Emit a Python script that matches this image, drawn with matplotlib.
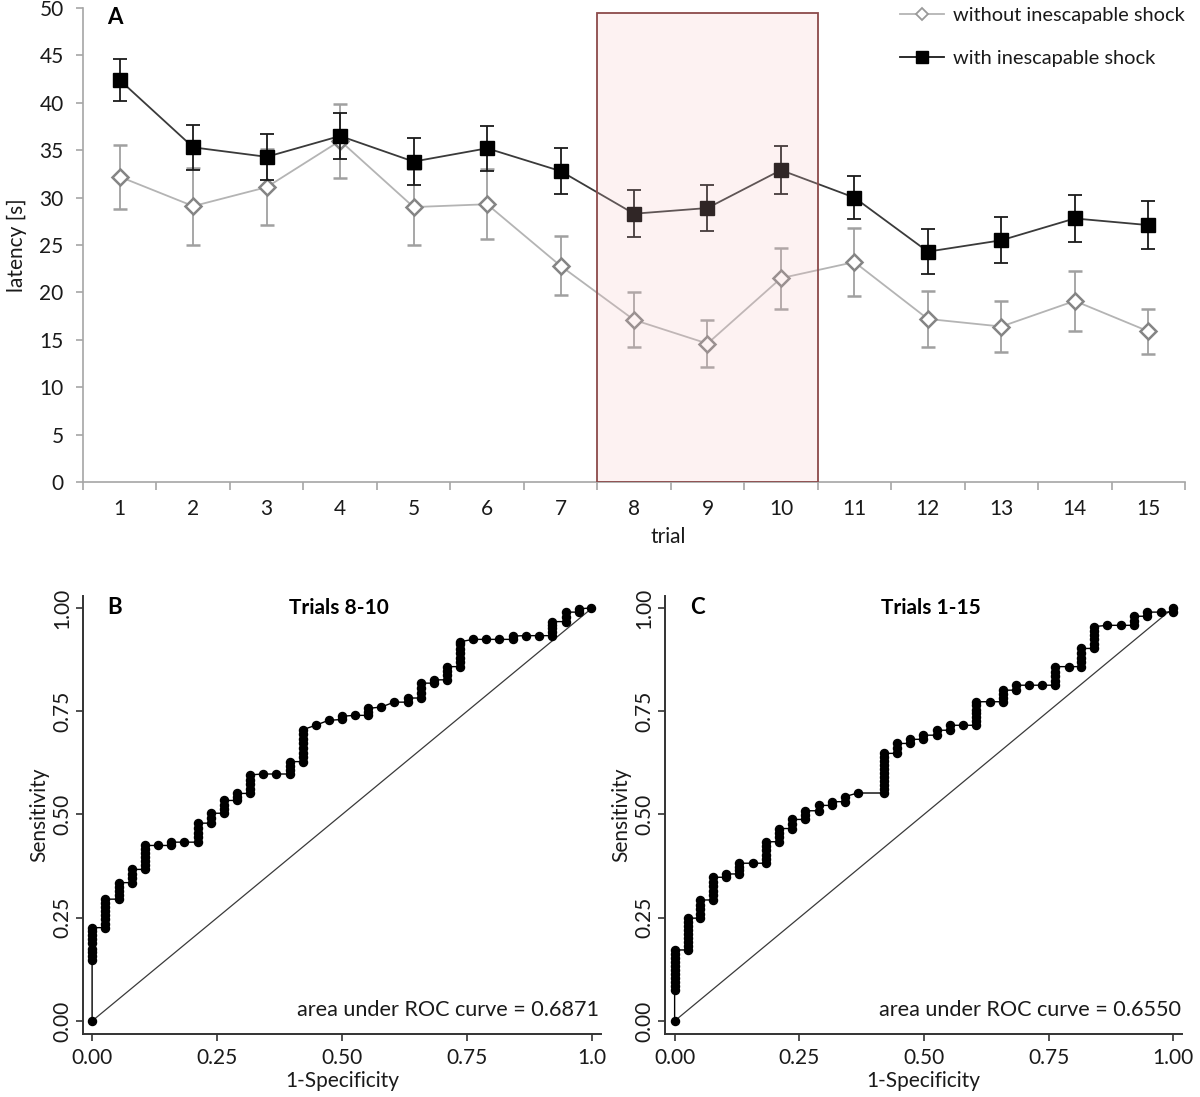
import matplotlib
matplotlib.use("Agg")
import matplotlib.pyplot as plt
from matplotlib.patches import Rectangle
from matplotlib.lines import Line2D

plt.rcParams['font.family'] = ['Lato', 'DejaVu Sans']

# ---------------- Panel A data ----------------
trials = list(range(1, 16))
trial_labels = [str(t) for t in trials]
with_mean = [42.4, 35.3, 34.3, 36.5, 33.8, 35.2, 32.8, 28.3, 28.9, 32.9, 30.0, 24.3, 25.5, 27.8, 27.1]
with_err = [2.2, 2.4, 2.4, 2.4, 2.5, 2.4, 2.45, 2.5, 2.45, 2.5, 2.3, 2.4, 2.45, 2.45, 2.55]
without_mean = [32.2, 29.1, 31.1, 36.0, 29.0, 29.3, 22.8, 17.1, 14.6, 21.5, 23.2, 17.2, 16.4, 19.1, 15.9]
without_err = [3.4, 4.05, 4.0, 3.9, 4.05, 3.7, 3.1, 2.9, 2.45, 3.2, 3.6, 2.95, 2.65, 3.2, 2.4]
highlight_trials = (8, 10)
highlight_top = 49.5
series_labels = ['without inescapable shock', 'with inescapable shock']

# ---------------- Panel B ROC (trials 8-10) ----------------
roc_b_fpr = [0.000, 0.026, 0.053, 0.079, 0.105, 0.132, 0.158, 0.184, 0.211, 0.237,
             0.263, 0.289, 0.316, 0.342, 0.368, 0.395, 0.421, 0.447, 0.473, 0.500,
             0.526, 0.552, 0.578, 0.604, 0.631, 0.657, 0.683, 0.709, 0.735, 0.762,
             0.788, 0.814, 0.841, 0.867, 0.894, 0.920, 0.947, 0.973, 0.998]
roc_b_tpr = [
    [0.000, 0.148, 0.157, 0.166, 0.175, 0.190, 0.199, 0.208, 0.217, 0.226],
    [0.226, 0.236, 0.246, 0.256, 0.266, 0.276, 0.286, 0.295],
    [0.295, 0.305, 0.315, 0.325, 0.335],
    [0.335, 0.346, 0.357, 0.367],
    [0.367, 0.377, 0.387, 0.396, 0.406, 0.416, 0.425],
    [0.425],
    [0.425, 0.433],
    [0.433],
    [0.433, 0.445, 0.456, 0.468, 0.479],
    [0.479, 0.491, 0.503],
    [0.503, 0.513, 0.524, 0.534],
    [0.534, 0.542, 0.551],
    [0.551, 0.562, 0.573, 0.584, 0.596],
    [0.598],
    [0.598],
    [0.598, 0.608, 0.618, 0.628],
    [0.628, 0.639, 0.650, 0.661, 0.672, 0.683, 0.694, 0.705],
    [0.716],
    [0.728],
    [0.730, 0.738],
    [0.740],
    [0.740, 0.748, 0.757],
    [0.760],
    [0.772],
    [0.772, 0.782],
    [0.782, 0.794, 0.806, 0.818],
    [0.818, 0.826],
    [0.826, 0.837, 0.847, 0.858],
    [0.858, 0.869, 0.880, 0.891, 0.901, 0.912, 0.918],
    [0.924],
    [0.924],
    [0.924],
    [0.924, 0.932],
    [0.933],
    [0.933],
    [0.933, 0.942, 0.951, 0.959, 0.967],
    [0.967, 0.979, 0.990],
    [0.990, 0.998],
    [1.000],
]
auc_b = '0.6871'

# ---------------- Panel C ROC (trials 1-15) ----------------
roc_c_fpr = [0.000, 0.026, 0.051, 0.077, 0.103, 0.130, 0.157, 0.183, 0.210, 0.236,
             0.262, 0.289, 0.315, 0.341, 0.367, 0.419, 0.446, 0.473, 0.499, 0.526,
             0.552, 0.579, 0.605, 0.632, 0.658, 0.684, 0.711, 0.737, 0.763, 0.790,
             0.816, 0.842, 0.868, 0.895, 0.921, 0.948, 0.975, 1.000]
roc_c_tpr = [
    [0.000, 0.075, 0.085, 0.095, 0.104, 0.114, 0.124, 0.133, 0.143, 0.153, 0.162, 0.172],
    [0.172, 0.182, 0.191, 0.201, 0.211, 0.220, 0.230, 0.240, 0.249],
    [0.249, 0.260, 0.271, 0.282, 0.293],
    [0.293, 0.304, 0.315, 0.326, 0.337, 0.348],
    [0.348, 0.356],
    [0.356, 0.365, 0.374, 0.382],
    [0.382],
    [0.382, 0.392, 0.403, 0.413, 0.424, 0.434],
    [0.434, 0.445, 0.456, 0.466],
    [0.466, 0.477, 0.488],
    [0.488, 0.499, 0.509],
    [0.509, 0.522],
    [0.522, 0.531],
    [0.531, 0.543],
    [0.552],
    [0.552, 0.562, 0.572, 0.581, 0.591, 0.600, 0.610, 0.619, 0.629, 0.638, 0.648],
    [0.648, 0.660, 0.672],
    [0.672, 0.682],
    [0.682, 0.692],
    [0.692, 0.704],
    [0.704, 0.716],
    [0.716],
    [0.716, 0.726, 0.735, 0.745, 0.754, 0.764, 0.773],
    [0.773],
    [0.773, 0.783, 0.792, 0.801],
    [0.801, 0.813],
    [0.813],
    [0.813],
    [0.813, 0.824, 0.835, 0.846, 0.858],
    [0.858],
    [0.858, 0.869, 0.880, 0.891, 0.902],
    [0.902, 0.913, 0.924, 0.934, 0.945, 0.955],
    [0.958],
    [0.958],
    [0.958, 0.969, 0.980],
    [0.980, 0.990],
    [0.990],
    [0.990, 1.000],
]
auc_c = '0.6550'

roc_ticks = [0.0, 0.25, 0.5, 0.75, 1.0]
roc_b_xticklabels = ['0.00', '0.25', '0.50', '0.75', '1.0']
roc_c_xticklabels = ['0.00', '0.25', '0.50', '0.75', '1.00']
roc_yticklabels = ['0.00', '0.25', '0.50', '0.75', '1.00']

# ---------------- Figure ----------------
W, H = 1200, 1097
fig = plt.figure(figsize=(W / 100, H / 100), dpi=100)


def fr(x0, y0, x1, y1):
    return [x0 / W, 1 - y1 / H, (x1 - x0) / W, (y1 - y0) / H]


FS = 15
gray_axis = '#a6a6a6'
txt = '#1a1a1a'

# ---- Panel A ----
axA = fig.add_axes(fr(83, 8, 1185, 482))
axA.set_xlim(0.5, 15.5)
axA.set_ylim(0, 50)

axA.errorbar(trials, without_mean, yerr=without_err, color='#b4b4b4', lw=1.3,
             ecolor='#a0a0a0', elinewidth=1.3, capsize=5, capthick=1.3,
             marker='D', markersize=8.5, markerfacecolor='white',
             markeredgecolor='#858585', markeredgewidth=1.8, zorder=3)
axA.errorbar(trials, with_mean, yerr=with_err, color='#3a3a3a', lw=1.3,
             ecolor='#1a1a1a', elinewidth=1.3, capsize=5, capthick=1.3,
             marker='s', markersize=9.5, markerfacecolor='black',
             markeredgecolor='black', zorder=4)

rect = Rectangle((highlight_trials[0] - 0.5, 0), highlight_trials[1] - highlight_trials[0] + 1,
                 highlight_top, facecolor=(0.96, 0.76, 0.76, 0.2),
                 edgecolor='#8c4a4a', lw=1.3, zorder=5)
axA.add_patch(rect)

for s in ['top', 'right']:
    axA.spines[s].set_visible(False)
for s in ['left', 'bottom']:
    axA.spines[s].set_color(gray_axis)
    axA.spines[s].set_linewidth(1.2)

axA.set_yticks(range(0, 51, 5))
axA.tick_params(axis='y', length=5, width=1.2, color=gray_axis, pad=9,
                labelsize=FS, labelcolor=txt)
axA.set_xticks([t - 0.5 for t in trials] + [15.5])
axA.set_xticklabels([])
axA.set_xticks(trials, minor=True)
axA.set_xticklabels(trial_labels, minor=True)
axA.tick_params(axis='x', which='major', length=6, width=1.2, color=gray_axis)
axA.tick_params(axis='x', which='minor', length=0, pad=12, labelsize=FS,
                labelcolor=txt)
axA.set_ylabel('latency [s]', fontsize=FS, color=txt)
axA.yaxis.set_label_coords(-0.051, 0.5)
axA.set_xlabel('trial', fontsize=FS, color=txt)
axA.xaxis.set_label_coords(0.531, -0.095)
axA.text(0.029, 0.98, 'A', transform=axA.transAxes, fontsize=16, fontweight='bold',
         ha='center', va='center')

h1 = Line2D([], [], color='#b4b4b4', lw=1.3, marker='D', markersize=6.5,
            markerfacecolor='white', markeredgecolor='#9a9a9a', markeredgewidth=1.3)
h2 = Line2D([], [], color='#1a1a1a', lw=1.3, marker='s', markersize=8.5,
            markerfacecolor='black', markeredgecolor='black')
leg = axA.legend([h1, h2], series_labels, loc='upper left',
                 bbox_to_anchor=(900 / W, 1 - 7 / H), bbox_transform=fig.transFigure,
                 frameon=False, fontsize=14.4, handlelength=2.2, handletextpad=0.45,
                 labelspacing=1.3, borderpad=0, borderaxespad=0)
for t in leg.get_texts():
    t.set_color(txt)


# ---- ROC panels ----
def roc_panel(rect_px, xlim, fpr_cols, tpr_cols, letter, title, title_x, auc,
              xticklabels, auc_x):
    ax = fig.add_axes(fr(*rect_px))
    xs, ys = [], []
    for f, col in zip(fpr_cols, tpr_cols):
        for t in col:
            xs.append(f)
            ys.append(t)
    ax.plot([0, 1], [0, 1], color='#3a3a3a', lw=0.9, zorder=2)
    ax.plot(xs, ys, color='black', lw=1.0, zorder=3)
    ax.plot(xs, ys, ls='none', marker='o', markersize=5.8, color='black', zorder=4)
    ax.set_xlim(*xlim)
    ax.set_ylim(-0.0315, 1.029)
    for s in ['top', 'right']:
        ax.spines[s].set_visible(False)
    for s in ['left', 'bottom']:
        ax.spines[s].set_color('#333333')
        ax.spines[s].set_linewidth(1.4)
    ax.set_xticks(roc_ticks)
    ax.set_xticklabels(xticklabels)
    ax.set_yticks(roc_ticks)
    ax.set_yticklabels(roc_yticklabels, rotation=90, va='center')
    ax.tick_params(axis='both', length=5, width=1.2, color='#333333', labelsize=FS,
                   labelcolor=txt)
    ax.tick_params(axis='x', pad=5)
    ax.tick_params(axis='y', pad=3)
    ax.set_xlabel('1-Specificity', fontsize=FS, color=txt)
    ax.xaxis.set_label_coords(0.5, -0.084)
    ax.set_ylabel('Sensitivity', fontsize=FS, color=txt)
    ax.yaxis.set_label_coords(-0.066, 0.5)
    ax.text(0.045, 1.0, letter, fontsize=16, fontweight='bold', ha='center', va='center')
    ax.text(title_x, 1.0, title, fontsize=FS, fontweight='bold', ha='center', va='center')
    ax.text(auc_x, 0.027, 'area under ROC curve = ' + auc, fontsize=FS + 0.6,
            ha='right', va='center', color=txt)
    return ax


roc_panel((83, 596, 601, 1034), (-0.0182, 1.0178), roc_b_fpr, roc_b_tpr, 'B',
          'Trials 8-10', 0.493, auc_b, roc_b_xticklabels, 1.014)
roc_panel((665, 596, 1182, 1034), (-0.0193, 1.0176), roc_c_fpr, roc_c_tpr, 'C',
          'Trials 1-15', 0.514, auc_c, roc_c_xticklabels, 1.016)

fig.savefig('out.png', dpi=100)
